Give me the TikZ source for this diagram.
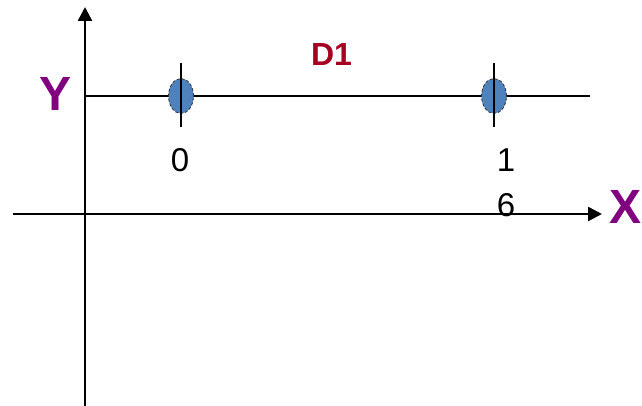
\documentclass[tikz,border=0pt]{standalone}
\usepackage{fontspec}
\setmainfont{Liberation Sans}
\usetikzlibrary{arrows.meta,shapes.geometric}
\definecolor{ptblue}{HTML}{4F81BD}
\definecolor{axpurple}{HTML}{800080}
\definecolor{dred}{HTML}{A50021}
\tikzset{
  axisline/.style={line width=2.5pt,-{Triangle[length=14pt,width=14pt]}},
  pt/.style={ellipse,draw=black!80,densely dashed,line width=0.8pt,fill=ptblue,minimum width=25pt,minimum height=35pt,inner sep=0pt},
  tick/.style={line width=1.5pt},
  num/.style={font=\fontsize{33pt}{40pt}\selectfont,anchor=base,inner sep=0pt},
  axlabel/.style={font=\fontsize{48pt}{50pt}\selectfont\bfseries,text=axpurple,inner sep=0pt}
}
\begin{document}
\begin{tikzpicture}[x=1pt,y=-1pt]
\useasboundingbox (0,0) rectangle (642,406);
% axes
\coordinate (ybot) at (85,406);
\coordinate (ytop) at (85,7);
\coordinate (xl) at (13,214);
\coordinate (xr) at (602,214);
\draw[axisline] (ybot) -- (ytop);
\draw[axisline] (xl) -- (xr);
% D1 line
\coordinate (d1l) at (85,96);
\coordinate (d1r) at (590,96);
\draw[line width=1.4pt] (d1l) -- (d1r);
% points
\node[pt] (p0) at (181,96) {};
\node[pt] (p16) at (494,96) {};
\coordinate (t0a) at (181,63); \coordinate (t0b) at (181,127);
\coordinate (t1a) at (494,63); \coordinate (t1b) at (494,127);
\draw[tick] (t0a) -- (t0b);
\draw[tick] (t1a) -- (t1b);
% labels
\node[num] (l0) at (180,172) {0};
\node[num] (l1) at (506,172) {1};
\node[num] (l6) at (506,216) {6};
\node[axlabel,anchor=base] (ly) at (56,111) {Y};
\node[axlabel,anchor=base west] (lx) at (609,223) {X};
\node[font=\fontsize{32pt}{40pt}\selectfont\bfseries,text=dred,inner sep=0pt,anchor=base] (ld1) at (331.5,66) {D1};
\end{tikzpicture}
\end{document}
